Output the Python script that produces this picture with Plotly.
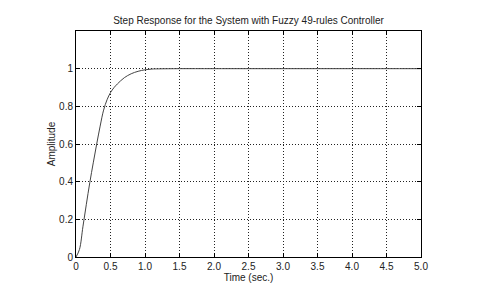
import plotly.graph_objects as go

time_s = [0, 0.05, 0.1, 0.15, 0.2, 0.25, 0.3, 0.35, 0.4, 0.45, 0.5, 0.55, 0.6, 0.7, 0.8, 0.9, 1.0, 1.1, 1.2, 1.5, 2.0, 3.0, 4.0, 5.0]
amplitude = [0, 0.04, 0.16, 0.28, 0.395, 0.50, 0.60, 0.695, 0.78, 0.835, 0.873, 0.899, 0.919, 0.952, 0.973, 0.986, 0.994, 0.998, 0.999, 1.0, 1.0, 1.0, 1.0, 1.0]

x_ticks = [0, 0.5, 1.0, 1.5, 2.0, 2.5, 3.0, 3.5, 4.0, 4.5, 5.0]
x_tick_labels = ["0", "0.5", "1.0", "1.5", "2.0", "2.5", "3.0", "3.5", "4.0", "4.5", "5.0"]
y_ticks = [0, 0.2, 0.4, 0.6, 0.8, 1.0]
y_tick_labels = ["0", "0.2", "0.4", "0.6", "0.8", "1"]

fig = go.Figure()
fig.add_trace(go.Scatter(x=time_s, y=amplitude, mode="lines",
                         line=dict(color="#444444", width=1, shape="spline", smoothing=1.0),
                         showlegend=False, hoverinfo="skip"))

font = dict(family="Liberation Sans, Arial, sans-serif", size=10, color="#222222")
axis_common = dict(showline=True, mirror="ticks", linecolor="black", linewidth=1,
                   ticks="inside", ticklen=4, tickcolor="black",
                   showgrid=True, gridcolor="#222222", gridwidth=1, griddash="1px,2px",
                   zeroline=False, tickfont=font, automargin=False)

fig.update_xaxes(range=[0, 5], tickvals=x_ticks, ticktext=x_tick_labels,
                 title=dict(text="Time (sec.)", font=font, standoff=2), **axis_common)
fig.update_yaxes(range=[0, 1.2], tickvals=y_ticks, ticktext=y_tick_labels,
                 title=dict(text="Amplitude", font=font, standoff=1), **axis_common)

W, H = 472, 276
fig.update_layout(width=W, height=H,
                  margin=dict(l=68, r=59, t=23, b=27, autoexpand=False),
                  paper_bgcolor="white", plot_bgcolor="white",
                  title=dict(text="Step Response for the System with Fuzzy 49-rules Controller",
                             font=font, x=0.5, xanchor="center", y=1 - 12 / H, yanchor="middle",
                             xref="paper", yref="container", automargin=False),
                  font=font)

fig.write_html("out.html")
